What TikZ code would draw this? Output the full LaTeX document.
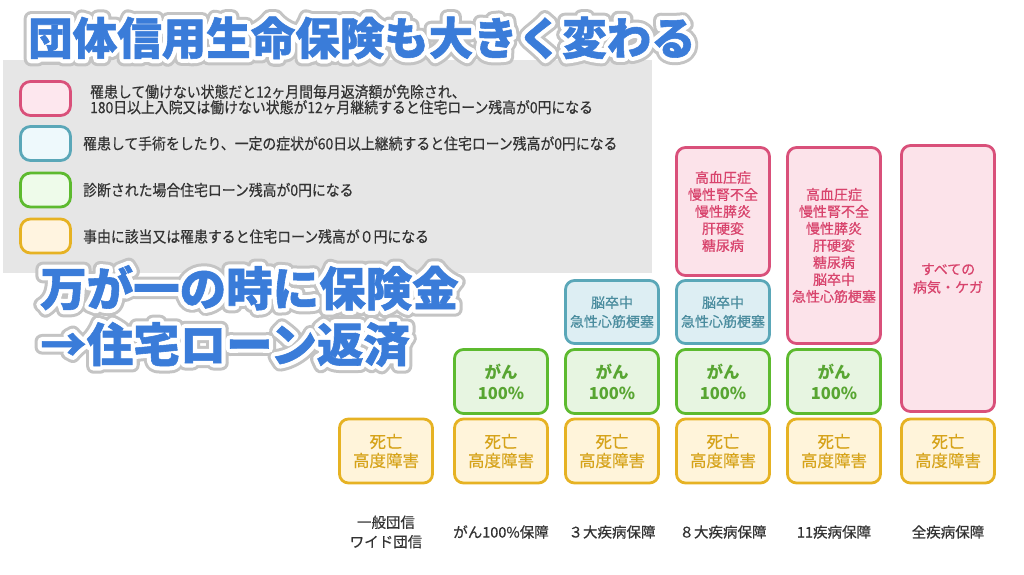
\documentclass[tikz,border=0pt]{standalone}
\usepackage{fontspec}
\setmainfont{Noto Sans CJK JP}
\newfontfamily\medfont{Noto Sans CJK JP}[FakeBold=0.5]
\newfontfamily\legfont{Noto Sans CJK JP}[FakeStretch=0.9,FakeBold=0.4]
\newfontfamily\heavyfont{Noto Sans CJK JP}[FakeBold=1.2]
\definecolor{titleblue}{HTML}{3A7CD9}
\definecolor{glowgray}{HTML}{C4C4C4}
\definecolor{panelgray}{HTML}{E6E6E6}
\definecolor{labgray}{HTML}{333333}
\definecolor{oborder}{HTML}{E6B223}
\definecolor{ofill}{HTML}{FFF4DA}
\definecolor{otext}{HTML}{D6A31A}
\definecolor{gborder}{HTML}{5DBA2F}
\definecolor{gfill}{HTML}{E7F5E1}
\definecolor{gtext}{HTML}{58A532}
\definecolor{cborder}{HTML}{5AA7B8}
\definecolor{cfill}{HTML}{DDEEF3}
\definecolor{ctext}{HTML}{4A8C9E}
\definecolor{pborder}{HTML}{D9507A}
\definecolor{pfill}{HTML}{FCE3EA}
\definecolor{ptext}{HTML}{D8436C}
\definecolor{lpfill}{HTML}{FDE7EE}
\definecolor{lcfill}{HTML}{EEF9FC}
\definecolor{lgfill}{HTML}{EEFBEA}
\definecolor{lofill}{HTML}{FFF4E0}
\newcommand\strk[1]{\special{pdf:literal direct 1 j #1 w 2 Tr}}
\newcommand\unstrk{\special{pdf:literal direct 0 Tr}}
\begin{document}
\begin{tikzpicture}[x=1pt,y=-1pt,
  colbox/.style={line width=2.8pt, rounded corners=9pt, minimum width=93pt, align=center, inner sep=0pt},
  obox/.style={colbox, draw=oborder, fill=ofill, text=otext, minimum height=64pt, font=\medfont\fontsize{16.5}{19}\selectfont},
  gbox/.style={colbox, draw=gborder, fill=gfill, text=gtext, minimum height=64pt, font=\fontsize{16.5}{21}\selectfont\bfseries},
  cbox/.style={colbox, draw=cborder, fill=cfill, text=ctext, minimum height=63pt, font=\medfont\fontsize{14}{19}\selectfont},
  pbox/.style={colbox, draw=pborder, fill=pfill, text=ptext, font=\medfont\fontsize{14}{17}\selectfont},
  swatch/.style={line width=2.8pt, rounded corners=10pt, minimum width=50pt, minimum height=34pt, inner sep=0pt},
  legtxt/.style={anchor=west, align=left, text=labgray, inner sep=0pt, font=\legfont\fontsize{15.4}{15.5}\selectfont},
  lab/.style={text=labgray, align=center, inner sep=0pt, font=\medfont\fontsize{14.5}{19.5}\selectfont},
  bigtxt/.style={inner sep=0pt, font=\fontsize{44.5}{44.5}\selectfont\bfseries},
  bigtwo/.style={inner sep=0pt, anchor=west, align=left, font=\fontsize{46.5}{56}\selectfont\bfseries}
]
\useasboundingbox (0,0) rectangle (1024,574);
\fill[white] (0,0) rectangle (1024,574);
% legend panel
\node[fill=panelgray, anchor=north west, minimum width=649pt, minimum height=213pt, inner sep=0pt] (panel) at (3,60) {};
% title
\node[bigtxt, text=glowgray] (title-glow) at (362,38) {\strk{15}団体信用生命保険も大きく変わる\unstrk};
\node[bigtxt, text=white] (title-halo) at (362,38) {\strk{9}団体信用生命保険も大きく変わる\unstrk};
\node[bigtxt, text=titleblue, font=\heavyfont\fontsize{44.5}{44.5}\selectfont\bfseries] (title) at (362,38) {団体信用生命保険も大きく変わる};
% legend
\node[swatch, draw=pborder, fill=lpfill] (sw-p) at (45.5,98.5) {};
\node[swatch, draw=cborder, fill=lcfill] (sw-c) at (45.5,143.5) {};
\node[swatch, draw=gborder, fill=lgfill] (sw-g) at (45.5,190) {};
\node[swatch, draw=oborder, fill=lofill] (sw-o) at (45.5,236) {};
\node[legtxt] (lt-p) at (90,99.5) {罹患して働けない状態だと12ヶ月間毎月返済額が免除され、\\180日以上入院又は働けない状態が12ヶ月継続すると住宅ローン残高が0円になる};
\node[legtxt] (lt-c) at (83,143.5) {罹患して手術をしたり、一定の症状が60日以上継続すると住宅ローン残高が0円になる};
\node[legtxt] (lt-g) at (83,190) {診断された場合住宅ローン残高が0円になる};
\node[legtxt] (lt-o) at (83,236.5) {事由に該当又は罹患すると住宅ローン残高が０円になる};
% second big text
\node[bigtwo, text=glowgray] (msg-glow) at (40,316) {\strk{15}万が一の時に保険金\unstrk\\\strk{15}→住宅ローン返済\unstrk};
\node[bigtwo, text=white] (msg-halo) at (40,316) {\strk{9}万が一の時に保険金\unstrk\\\strk{9}→住宅ローン返済\unstrk};
\node[bigtwo, text=titleblue, font=\heavyfont\fontsize{46.5}{56}\selectfont\bfseries] (msg) at (40,316) {万が一の時に保険金\\→住宅ローン返済};
% columns: orange row
\node[obox] (o1) at (386,451) {死亡\\高度障害};
\node[obox] (o2) at (501,451) {死亡\\高度障害};
\node[obox] (o3) at (612,451) {死亡\\高度障害};
\node[obox] (o4) at (723,451) {死亡\\高度障害};
\node[obox] (o5) at (834,451) {死亡\\高度障害};
\node[obox] (o6) at (948,451) {死亡\\高度障害};
% green row
\node[gbox] (g2) at (501,381.5) {がん\\100\%};
\node[gbox] (g3) at (612,381.5) {がん\\100\%};
\node[gbox] (g4) at (723,381.5) {がん\\100\%};
\node[gbox] (g5) at (834,381.5) {がん\\100\%};
% cyan row
\node[cbox] (c3) at (612,312) {脳卒中\\急性心筋梗塞};
\node[cbox] (c4) at (723,312) {脳卒中\\急性心筋梗塞};
% pink
\node[pbox, minimum height=128pt] (p4) at (723,211.5) {高血圧症\\慢性腎不全\\慢性膵炎\\肝硬変\\糖尿病};
\node[pbox, minimum height=196pt] (p5) at (834,245.5) {高血圧症\\慢性腎不全\\慢性膵炎\\肝硬変\\糖尿病\\脳卒中\\急性心筋梗塞};
\node[pbox, minimum height=266pt, font=\medfont\fontsize{14}{18}\selectfont] (p6) at (948,278.5) {すべての\\病気・ケガ};
% labels
\node[lab] (l1) at (386,532) {一般団信\\ワイド団信};
\node[lab] (l2) at (501,532) {がん100\%保障};
\node[lab] (l3) at (612,532) {３大疾病保障};
\node[lab] (l4) at (723,532) {８大疾病保障};
\node[lab] (l5) at (834,532) {11疾病保障};
\node[lab] (l6) at (948,532) {全疾病保障};
\end{tikzpicture}
\end{document}
